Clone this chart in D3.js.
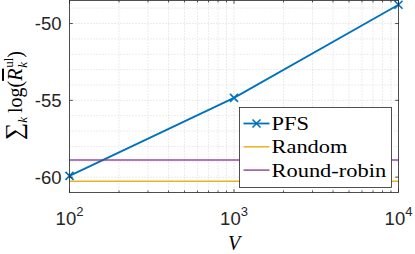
<!DOCTYPE html>
<html>
<head>
<meta charset="utf-8">
<script src="https://cdn.jsdelivr.net/npm/d3@7"></script>
<style>
  body { margin: 0; background: #fff; }
  svg { display: block; }
</style>
</head>
<body>
<div id="chart"></div>
<script>
// values
const vValues = [100, 1000, 10000];
const pfsValues = [-59.92, -54.84, -48.78];
const randomValues = [-60.27, -60.27, -60.27];
const roundRobinValues = [-58.88, -58.88, -58.88];
const seriesNames = ["PFS", "Random", "Round-robin"];
const seriesColors = ["#0072BD", "#EDB120", "#7E2F8E"];
const xTicks = [100, 1000, 10000];
const xTickExponents = ["2", "3", "4"];
const yTicks = [-60, -55, -50];

const width = 415, height = 254;
const margin = {top: 0.5, right: 16.5, bottom: 61.5, left: 69.5};
const plotW = width - margin.left - margin.right;
const plotH = height - margin.top - margin.bottom;

const svg = d3.select("#chart").append("svg")
    .attr("width", width)
    .attr("height", height);

const g = svg.append("g")
    .attr("transform", "translate(" + margin.left + "," + margin.top + ")");

//Scales
const xScale = d3.scaleLog().domain([100, 10000]).range([0, plotW]);
const yScale = d3.scaleLinear().domain([-61, -48.5]).range([plotH, 0]);

//Grid (dotted, major and minor)
const xGrid = xScale.ticks();
const yGrid = d3.range(-61, -48);
g.append("g").selectAll("line").data(xGrid).enter().append("line")
    .attr("x1", d => xScale(d)).attr("x2", d => xScale(d))
    .attr("y1", 0).attr("y2", plotH)
    .attr("stroke", "#cfcfcf").attr("stroke-width", 0.8)
    .attr("stroke-dasharray", "1,2");
g.append("g").selectAll("line").data(yGrid).enter().append("line")
    .attr("x1", 0).attr("x2", plotW)
    .attr("y1", d => yScale(d)).attr("y2", d => yScale(d))
    .attr("stroke", "#cfcfcf").attr("stroke-width", 0.8)
    .attr("stroke-dasharray", "1,2");

//Lines
const line = d3.line().x(d => xScale(d[0])).y(d => yScale(d[1]));
const allSeries = [pfsValues, randomValues, roundRobinValues];
const widths = [1.8, 1.5, 1.5];
allSeries.forEach((vals, i) => {
    g.append("path")
        .datum(vValues.map((v, j) => [v, vals[j]]))
        .attr("d", line)
        .attr("fill", "none")
        .attr("stroke", seriesColors[i])
        .attr("stroke-width", widths[i])
        .attr("opacity", i === 2 ? 0.85 : 1);
});

//PFS markers
const m = 4;
function crossPath(cx, cy) {
    return "M" + (cx - m) + "," + (cy - m) + "L" + (cx + m) + "," + (cy + m) +
        "M" + (cx - m) + "," + (cy + m) + "L" + (cx + m) + "," + (cy - m);
}
g.append("g").selectAll("path").data(vValues).enter().append("path")
    .attr("d", (d, i) => crossPath(xScale(d), yScale(pfsValues[i])))
    .attr("stroke", seriesColors[0]).attr("stroke-width", 1.6).attr("fill", "none");

//Axes box and ticks
const axisColor = "#262626";
const axisG = g.append("g").attr("stroke", axisColor).attr("stroke-width", 0.8);
axisG.append("rect").attr("x", 0).attr("y", 0).attr("width", plotW).attr("height", plotH)
    .attr("fill", "none");
const tickLen = 3.3;
xGrid.forEach(d => {
    const major = xTicks.indexOf(d) >= 0;
    const len = major ? tickLen : tickLen * 0.6;
    axisG.append("line").attr("x1", xScale(d)).attr("x2", xScale(d))
        .attr("y1", plotH).attr("y2", plotH - len);
    axisG.append("line").attr("x1", xScale(d)).attr("x2", xScale(d))
        .attr("y1", 0).attr("y2", len);
});
yTicks.forEach(d => {
    axisG.append("line").attr("x1", 0).attr("x2", tickLen)
        .attr("y1", yScale(d)).attr("y2", yScale(d));
    axisG.append("line").attr("x1", plotW).attr("x2", plotW - tickLen)
        .attr("y1", yScale(d)).attr("y2", yScale(d));
});

//Tick labels
const tickFont = "'Liberation Sans', Arial, sans-serif";
g.append("g").selectAll("text").data(yTicks).enter().append("text")
    .attr("x", -8).attr("y", d => yScale(d))
    .attr("dy", "0.36em")
    .attr("text-anchor", "end")
    .attr("font-family", tickFont).attr("font-size", 18.5)
    .attr("fill", axisColor)
    .text(d => d);

const xLab = g.append("g").selectAll("text").data(xTicks).enter().append("text")
    .attr("x", d => xScale(d)).attr("y", plotH + 32)
    .attr("text-anchor", "middle")
    .attr("font-family", tickFont).attr("font-size", 18.5)
    .attr("fill", axisColor);
xLab.append("tspan").text("10");
xLab.append("tspan").attr("font-size", 13).attr("dy", -8.5).text((d, i) => xTickExponents[i]);

//Axis labels
const serif = "'Liberation Serif', 'Times New Roman', serif";
g.append("text")
    .attr("x", xScale(1000)).attr("y", plotH + 57)
    .attr("text-anchor", "middle")
    .attr("font-family", serif).attr("font-size", 20)
    .attr("font-style", "italic").attr("fill", "#000")
    .text("V");

const yLab = svg.append("text")
    .attr("transform", "translate(22," + (margin.top + plotH / 2 - 1) + ") rotate(-90)")
    .attr("text-anchor", "middle")
    .attr("font-family", serif).attr("font-size", 20).attr("fill", "#000");
yLab.append("tspan").attr("font-size", 24).text("\u2211");
yLab.append("tspan").attr("font-size", 13).attr("font-style", "italic").attr("dy", 5).text("k");
yLab.append("tspan").attr("dy", -5).attr("dx", 4).text("log(");
yLab.append("tspan").attr("font-style", "italic").attr("text-decoration", "overline").text("R");
const sup = yLab.append("tspan").attr("font-size", 13).attr("dy", -9).attr("dx", 1).text("ul");
const supW = sup.node().getComputedTextLength();
yLab.append("tspan").attr("font-size", 13).attr("font-style", "italic")
    .attr("dx", -supW).attr("dy", 14).text("k");
yLab.append("tspan").attr("dx", supW - 6).attr("dy", -5).text(")");

//Legend
const legX = 239.5 - margin.left, legY = 107.5 - margin.top;
const legW = 152, legH = 80, rowH = 23.3;
const leg = g.append("g").attr("transform", "translate(" + legX + "," + legY + ")");
leg.append("rect").attr("width", legW).attr("height", legH)
    .attr("fill", "#fff").attr("stroke", axisColor).attr("stroke-width", 0.8);
seriesNames.forEach((name, i) => {
    const cy = 16 + i * rowH;
    leg.append("line").attr("x1", 4).attr("x2", 30).attr("y1", cy).attr("y2", cy)
        .attr("stroke", seriesColors[i]).attr("stroke-width", widths[i])
        .attr("opacity", i === 2 ? 0.85 : 1);
    if (i === 0) {
        leg.append("path").attr("d", crossPath(17, cy))
            .attr("stroke", seriesColors[0]).attr("stroke-width", 1.6);
    }
    const t = leg.append("text").attr("x", 32).attr("y", cy + 6.5)
        .attr("font-family", serif).attr("font-size", 19.5).attr("fill", "#000")
        .text(name);
    // Computer Modern runs wider than Liberation Serif
    const w = t.node().getComputedTextLength();
    t.attr("textLength", w * 1.15).attr("lengthAdjust", "spacingAndGlyphs");
});
</script>
</body>
</html>
